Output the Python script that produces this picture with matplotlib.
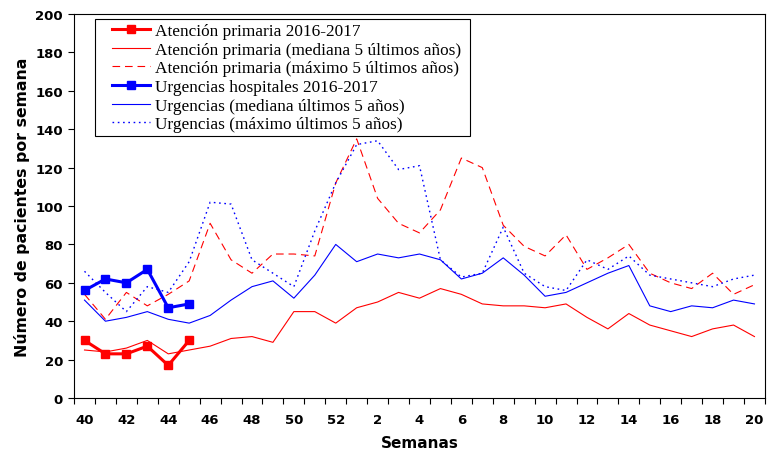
import matplotlib
matplotlib.use("Agg")
import matplotlib.pyplot as plt
from matplotlib.ticker import FixedLocator, NullFormatter
from matplotlib.patches import Rectangle

plt.rcParams['lines.scale_dashes'] = False

weeks = [40, 41, 42, 43, 44, 45, 46, 47, 48, 49, 50, 51, 52,
         1, 2, 3, 4, 5, 6, 7, 8, 9, 10, 11, 12, 13, 14, 15, 16, 17, 18, 19, 20]

ap_2016 = [30, 23, 23, 27, 17, 30]
ap_mediana = [25, 24, 26, 30, 23, 25, 27, 31, 32, 29, 45, 45, 39,
              47, 50, 55, 52, 57, 54, 49, 48, 48, 47, 49, 42, 36, 44, 38, 35, 32, 36, 38, 32]
ap_maximo = [54, 41, 55, 48, 54, 61, 91, 72, 65, 75, 75, 74, 112,
             135, 104, 91, 86, 98, 125, 120, 90, 79, 74, 85, 67, 73, 80, 65, 60, 57, 65, 54, 59]
urg_2016 = [56, 62, 60, 67, 47, 49]
urg_mediana = [51, 40, 42, 45, 41, 39, 43, 51, 58, 61, 52, 64, 80,
               71, 75, 73, 75, 72, 62, 65, 73, 64, 53, 55, 60, 65, 69, 48, 45, 48, 47, 51, 49]
urg_maximo = [66, 55, 45, 58, 55, 71, 102, 101, 72, 65, 58, 87, 112,
              132, 134, 119, 121, 72, 63, 65, 89, 65, 58, 56, 72, 67, 74, 64, 62, 60, 58, 62, 64]

labels = ["Atención primaria 2016-2017",
          "Atención primaria (mediana 5 últimos años)",
          "Atención primaria (máximo 5 últimos años)",
          "Urgencias hospitales 2016-2017",
          "Urgencias (mediana últimos 5 años)",
          "Urgencias (máximo últimos 5 años)"]

x = list(range(len(weeks)))
x_cur = x[:len(ap_2016)]

W, H = 768, 456
fig = plt.figure(figsize=(W / 100, H / 100), dpi=100)
ax = fig.add_axes([0.0964, 0.125, 0.8996, 0.842])

red = '#FF0000'
blue = '#0000FF'

ax.plot(x_cur, ap_2016, color=red, lw=2.2, marker='s', ms=5.5, label=labels[0], zorder=5)
ax.plot(x, ap_mediana, color=red, lw=0.8, label=labels[1])
ax.plot(x, ap_maximo, color=red, lw=0.8, dashes=(5.5, 3.5), label=labels[2])
ax.plot(x_cur, urg_2016, color=blue, lw=2.2, marker='s', ms=5.5, label=labels[3], zorder=5)
ax.plot(x, urg_mediana, color=blue, lw=0.8, label=labels[4])
ax.plot(x, urg_maximo, color=blue, lw=1.0, dashes=(1.2, 2.6), label=labels[5])

ax.set_xlim(-0.5, len(weeks) - 0.5)
ax.set_ylim(0, 200)
ax.set_yticks(range(0, 201, 20))

ax.set_xticks(x[::2])
ax.set_xticklabels([str(w) for w in weeks[::2]])
ax.xaxis.set_minor_locator(FixedLocator([i - 0.5 for i in range(len(weeks) + 1)]))
ax.xaxis.set_minor_formatter(NullFormatter())
ax.tick_params(axis='x', which='major', length=0, pad=11)
ax.tick_params(axis='x', which='minor', length=4, width=0.8, direction='out')
ax.tick_params(axis='y', which='major', length=4, width=0.8, direction='out', pad=4)

for lab in ax.get_xticklabels() + ax.get_yticklabels():
    lab.set_fontfamily('DejaVu Sans')
    lab.set_fontweight('bold')
    lab.set_fontsize(9.5)

ax.set_xlabel('Semanas', fontfamily='DejaVu Sans', fontweight='bold', fontsize=11, labelpad=6)
ax.set_ylabel('Número de pacientes por semana', fontfamily='DejaVu Sans', fontweight='bold',
              fontsize=11.3, labelpad=4)

for s in ax.spines.values():
    s.set_linewidth(0.8)

# legend frame
frame = Rectangle((95 / W, 1 - 137 / H), 375 / W, 117 / H, transform=fig.transFigure,
                  facecolor='white', edgecolor='black', linewidth=0.8, zorder=9, clip_on=False)
ax.add_patch(frame)

leg = ax.legend(loc='upper left', bbox_to_anchor=(112 / W, 1 - 24 / H), bbox_transform=fig.transFigure,
                prop={'family': 'Liberation Serif', 'size': 12.4},
                frameon=False, handlelength=2.2, handletextpad=0.3, labelspacing=0.15,
                borderpad=0, borderaxespad=0)
leg.set_zorder(10)

fig.savefig('out.png', dpi=100)
